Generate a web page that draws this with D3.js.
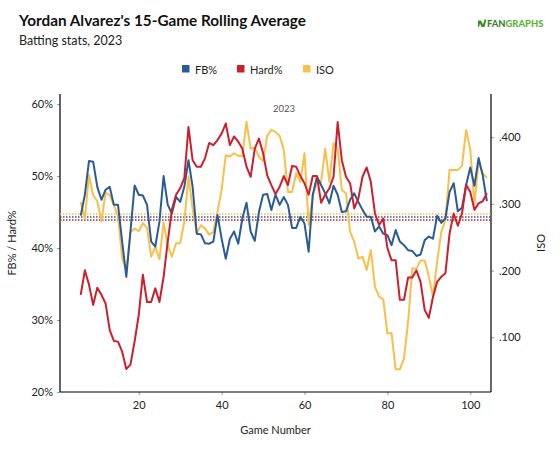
<!DOCTYPE html>
<html><head><meta charset="utf-8">
<script src="https://cdn.jsdelivr.net/npm/d3@7"></script>
<style>body{margin:0;background:#fff} svg{display:block} text{font-family:Lato,"Open Sans",sans-serif}</style>
</head><body><svg id="c" width="560" height="455"></svg>
<script>
// ---- data ----
const games = d3.range(6, 105);
const fbPct = [44.5,47.4,52.1,52.0,48.5,46.7,48.1,48.5,46.0,46.0,40.9,36.0,42.3,48.7,47.4,47.3,46.0,40.9,40.2,43.7,
  50.0,46.0,44.8,47.1,46.4,48.5,52.2,48.5,42.0,41.9,40.65,40.6,40.9,44.6,41.3,38.5,41.3,42.3,40.6,44.1,
  46.3,42.3,41.0,45.0,47.4,47.5,45.3,47.4,46.0,47.1,46.0,42.8,42.8,44.35,43.4,39.5,47.4,49.9,48.75,47.6,
  46.2,48.65,47.4,45.0,45.1,46.7,47.6,46.4,45.3,44.35,44.35,42.3,43.0,42.0,41.8,40.4,42.5,40.9,40.4,39.7,
  39.6,38.9,39.1,41.1,41.6,41.3,44.5,43.5,44.1,47.8,49.0,45.1,45.6,48.75,51.2,48.65,52.5,50.1,46.5];
const hardPct = [33.5,36.9,34.9,32.1,34.5,33.5,32.3,28.6,27.1,27.0,25.6,23.2,23.8,27.0,30.7,36.3,32.5,32.5,34.4,32.5,
  36.0,40.9,45.3,47.4,48.3,49.7,56.8,52.2,51.3,51.3,52.5,54.6,54.3,55.0,55.9,57.3,54.3,55.5,54.8,53.8,
  51.3,49.9,53.8,55.2,53.2,50.1,48.75,47.5,48.5,50.0,48.75,51.4,51.3,50.0,49.0,47.4,50.0,50.0,46.3,47.4,
  48.3,49.9,57.5,52.2,49.9,49.0,45.5,46.9,49.9,51.2,49.2,44.8,43.2,44.1,40.0,38.3,38.3,32.8,32.8,35.9,
  35.9,36.9,35.3,31.4,30.3,33.2,35.3,36.0,36.5,42.0,44.8,43.1,44.8,48.8,47.8,45.3,46.2,46.5,47.6];
const iso = [.303,.278,.343,.313,.304,.274,.317,.313,.298,.281,.218,.201,.258,.263,.259,.271,.264,.221,.236,.217,
  .272,.238,.221,.241,.241,.273,.341,.293,.256,.268,.263,.254,.258,.288,.321,.373,.371,.376,.372,.372,
  .423,.383,.384,.371,.364,.402,.411,.408,.402,.381,.318,.318,.346,.333,.376,.268,.313,.331,.333,.383,
  .333,.391,.383,.321,.316,.258,.243,.218,.221,.201,.231,.176,.161,.157,.106,.106,.052,.052,.068,.123,
  .203,.203,.215,.215,.191,.161,.213,.258,.276,.351,.351,.351,.357,.411,.381,.299,.363,.346,.339];
const avgFB = 44.3, avgHard = 43.9, avgISO = 0.285;
const leftTicks = [20, 30, 40, 50, 60];
const rightTicks = [0.1, 0.2, 0.3, 0.4];
const xTicks = [20, 40, 60, 80, 100];
const seriesNames = ["FB%", "Hard%", "ISO"];
const seriesColors = ["#2b5b94", "#cc1f2e", "#f9bf4b"];

// ---- layout ----
const svg = d3.select("#c");
const L = 60, R = 491, T = 94, B = 392;
const x = d3.scaleLinear().domain([1, 105]).range([L, R]);
const yL = d3.scaleLinear().domain([20, 61.4]).range([B, T]);
const yR = d3.scaleLinear().domain([0.018, 0.4648]).range([B, T]);

// titles
svg.append("text").attr("x", 19).attr("y", 26).attr("font-size", 15.3).attr("font-weight", 700)
  .attr("fill", "#111").text("Yordan Alvarez's 15-Game Rolling Average");
svg.append("text").attr("x", 19).attr("y", 44.5).attr("font-size", 12.5).attr("fill", "#222")
  .text("Batting stats, 2023");

// logo
const logo = svg.append("g").attr("transform", "translate(478,27)");
logo.append("path").attr("d", "M0,-6.5 L3,-6.5 L5,-2.5 L6.5,-7.5 L8.5,-7.5 L6.5,0 L3.5,0 L2,-3.5 L1,0 L0,0 Z").attr("fill", "#3f8f2a");
const lt = logo.append("text").attr("x", 9).attr("y", 0).attr("font-size", 9.4).attr("font-weight", 900)
  .attr("font-family", "Lato, sans-serif");
lt.append("tspan").attr("fill", "#3d7f2d").text("FAN");
lt.append("tspan").attr("fill", "#5cb335").text("GRAPHS");

// legend
const legX = [182, 237, 303];
seriesNames.forEach((n, i) => {
  svg.append("rect").attr("x", legX[i]).attr("y", 65).attr("width", 7.5).attr("height", 7.5).attr("fill", seriesColors[i]);
  svg.append("text").attr("x", legX[i] + 13).attr("y", 73.5).attr("font-size", 11).attr("fill", "#222").text(n);
});

// axes
const gL = svg.append("g").attr("transform", `translate(${L},0)`)
  .call(d3.axisLeft(yL).tickValues(leftTicks).tickFormat(d => d + "%").tickSize(3).tickPadding(4));
const gR = svg.append("g").attr("transform", `translate(${R},0)`)
  .call(d3.axisRight(yR).tickValues(rightTicks).tickFormat(d => d3.format(".3f")(d).replace(/^0/, "")).tickSize(3).tickPadding(5));
const gX = svg.append("g").attr("transform", `translate(0,${B})`)
  .call(d3.axisBottom(x).tickValues(xTicks).tickSize(3).tickPadding(6));
[gL, gR, gX].forEach(g => {
  g.select(".domain").remove();
  g.selectAll(".tick line").attr("stroke", "#999");
  g.selectAll(".tick text").attr("font-size", 11).attr("fill", "#222").attr("font-family", "Lato, sans-serif");
});
gR.selectAll(".tick text").attr("font-family", "'Liberation Sans', Arial, sans-serif").attr("font-size", 11);

// axis lines
svg.append("line").attr("x1", L).attr("x2", L).attr("y1", T).attr("y2", B).attr("stroke", "#000").attr("stroke-width", 1.2);
svg.append("line").attr("x1", R).attr("x2", R).attr("y1", T).attr("y2", B).attr("stroke", "#000").attr("stroke-width", 1.2);
svg.append("line").attr("x1", L).attr("x2", R).attr("y1", B).attr("y2", B).attr("stroke", "#000").attr("stroke-width", 1.2);

// axis titles
svg.append("text").attr("transform", `translate(16,${(T + B) / 2}) rotate(-90)`).attr("text-anchor", "middle")
  .attr("font-size", 11).attr("fill", "#222").text("FB% / Hard%");
svg.append("text").attr("transform", `translate(545,${(T + B) / 2}) rotate(-90)`).attr("text-anchor", "middle")
  .attr("font-size", 11).attr("fill", "#222").attr("font-family", "'Liberation Sans', Arial, sans-serif").text("ISO");
svg.append("text").attr("x", (L + R) / 2).attr("y", 434).attr("text-anchor", "middle")
  .attr("font-size", 11).attr("fill", "#222").text("Game Number");

// year label
svg.append("text").attr("x", 284).attr("y", 112).attr("text-anchor", "middle").attr("font-size", 9.5)
  .attr("fill", "#555").attr("font-family", "'Liberation Sans', Arial, sans-serif").text("2023");

// average lines
const avgs = [[yR(avgISO), seriesColors[2]], [yL(avgFB), seriesColors[0]], [yL(avgHard), seriesColors[1]]];
avgs.forEach(([yy, c]) => {
  svg.append("line").attr("x1", L).attr("x2", R).attr("y1", yy).attr("y2", yy)
    .attr("stroke", c).attr("stroke-width", 1.5).attr("stroke-dasharray", "1.5,1.5");
});

// series lines
const lineL = d3.line().x((d, i) => x(games[i])).y(d => yL(d));
const lineR = d3.line().x((d, i) => x(games[i])).y(d => yR(d));
svg.append("path").datum(iso).attr("d", lineR).attr("fill", "none").attr("stroke", seriesColors[2]).attr("stroke-width", 2).attr("stroke-linejoin", "round");
svg.append("path").datum(fbPct).attr("d", lineL).attr("fill", "none").attr("stroke", seriesColors[0]).attr("stroke-width", 2).attr("stroke-linejoin", "round");
svg.append("path").datum(hardPct).attr("d", lineL).attr("fill", "none").attr("stroke", seriesColors[1]).attr("stroke-width", 2).attr("stroke-linejoin", "round");
</script></body></html>
